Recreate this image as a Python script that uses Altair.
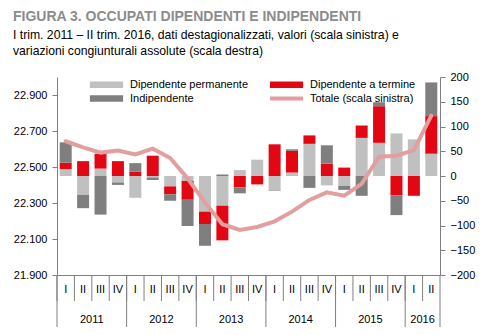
import altair as alt
import pandas as pd

# ---------------- data ----------------
YEARS = [2011, 2012, 2013, 2014, 2015, 2016]
ROMAN = ["I", "II", "III", "IV"]
QUARTERS = [f"{y}-{r}" for y in YEARS for r in ROMAN][:22]

SERIES = ["Dipendente permanente", "Dipendente a termine", "Indipendente"]
LINE_NAME = "Totale (scala sinistra)"

perm = [14, -38, 15, -13, -44, -3, -21, -10, -72, -60, 12, 33, -29, 7, 65, -19, -20, 77, 67, 86, 74, 45]
term = [13, 30, 30, 30, 9, 41, -16, -38, -25, -70, -23, -17, 64, 44, 17, 25, 17, 25, 74, -39, -40, 76]
indip = [41, -27, -78, -5, 17, -5, -13, -53, -44, 3, -12, 0, -1, 3, -24, 37, -8, -40, 8, -40, 0, 68]
total = [22643, 22609, 22580, 22591, 22570, 22602, 22550, 22437, 22302, 22182, 22150, 22167,
         22198, 22252, 22317, 22359, 22341, 22406, 22557, 22563, 22594, 22785]

LEFT_TICKS = [21900, 22100, 22300, 22500, 22700, 22900]
RIGHT_TICKS = [-200, -150, -100, -50, 0, 50, 100, 150, 200]

TITLE = "FIGURA 3. OCCUPATI  DIPENDENTI E INDIPENDENTI"
SUB1 = "I trim. 2011 \u2013 II trim. 2016, dati destagionalizzati, valori  (scala sinistra) e"
SUB2 = "variazioni congiunturali assolute (scala destra)"

# ---------------- styling ----------------
FONT = "Liberation Sans, Arial, sans-serif"
SERIES_COLORS = {"Dipendente permanente": "#C0C0C0",
                 "Dipendente a termine": "#E30613",
                 "Indipendente": "#7F7F7F"}
LEGEND_ORDER = ["Dipendente permanente", "Indipendente", "Dipendente a termine"]
LINE_COLOR = "#E39E9E"
AXIS_GRAY = "#808080"
W, H = 383, 198
LBL = 11

rows = []
for i, q in enumerate(QUARTERS):
    for k, (name, vals) in enumerate(zip(SERIES, [perm, term, indip])):
        rows.append({"q": q, "serie": name, "v": vals[i], "ord": k})
bars_df = pd.DataFrame(rows)
line_df = pd.DataFrame({"q": QUARTERS, "tot": total, "name": LINE_NAME})
year_start_df = pd.DataFrame({"q": [f"{y}-I" for y in YEARS]})
year_end_df = pd.DataFrame({"q": [QUARTERS[-1]]})
year_lab_df = pd.DataFrame({"q": [f"{y}-III" if y < 2016 else "2016-II" for y in YEARS],
                            "year": [str(y) for y in YEARS]})

xscale = alt.Scale(type="band", domain=QUARTERS, paddingInner=0, paddingOuter=0)
xaxis = alt.Axis(title=None, labelExpr="split(datum.value, '-')[1]", labelAngle=0,
                 ticks=False, grid=False, domainColor=AXIS_GRAY, labelPadding=8,
                 labelFont=FONT, labelFontSize=LBL, labelColor="#000000")

bars = alt.Chart(bars_df).mark_bar(size=12).encode(
    x=alt.X("q:O", scale=xscale, axis=xaxis),
    y=alt.Y("v:Q", stack="zero",
            scale=alt.Scale(domain=[-200, 200], nice=False),
            axis=alt.Axis(orient="right", values=RIGHT_TICKS, title=None, grid=False,
                          domainColor=AXIS_GRAY, tickColor=AXIS_GRAY, tickSize=5,
                          labelPadding=5, labelFont=FONT, labelFontSize=LBL,
                          labelColor="#000000")),
    color=alt.Color("serie:N",
                    scale=alt.Scale(domain=LEGEND_ORDER,
                                    range=[SERIES_COLORS[s] for s in LEGEND_ORDER]),
                    legend=alt.Legend(title=None, orient="none", legendX=44, legendY=2,
                                      columns=2, columnPadding=20, rowPadding=2,
                                      symbolType="M-5,-1H5V1H-5Z", symbolSize=44,
                                      symbolStrokeWidth=0, labelOffset=18,
                                      labelFont=FONT, labelFontSize=LBL, padding=0)),
    order=alt.Order("ord:Q"),
)

line = alt.Chart(line_df).mark_line(strokeWidth=4, strokeCap="round").encode(
    x=alt.X("q:O", scale=xscale, axis=xaxis),
    y=alt.Y("tot:Q", scale=alt.Scale(domain=[21900, 23000], nice=False, zero=False),
            axis=alt.Axis(orient="left", values=LEFT_TICKS, title=None, grid=False,
                          labelExpr="replace(format(datum.value, ','), ',', '.')",
                          domainColor=AXIS_GRAY, tickColor=AXIS_GRAY, tickSize=5,
                          labelPadding=5, labelFont=FONT, labelFontSize=LBL,
                          labelColor="#000000")),
    stroke=alt.Stroke("name:N", scale=alt.Scale(domain=[LINE_NAME], range=[LINE_COLOR]),
                      legend=alt.Legend(title=None, orient="none", legendX=224, legendY=16,
                                        symbolType="M-5,0H5", symbolSize=44,
                                        symbolStrokeWidth=4, labelOffset=18,
                                        labelFont=FONT, labelFontSize=LBL, padding=0)),
)

q_sep = alt.Chart(line_df).mark_rule(color=AXIS_GRAY, strokeWidth=1).encode(
    x=alt.X("q:O", bandPosition=0, scale=xscale, axis=xaxis),
    y=alt.value(H), y2=alt.value(H + 26),
)
y_sep = alt.Chart(year_start_df).mark_rule(color=AXIS_GRAY, strokeWidth=1).encode(
    x=alt.X("q:O", bandPosition=0, scale=xscale, axis=xaxis),
    y=alt.value(H), y2=alt.value(H + 52),
)
y_end = alt.Chart(year_end_df).mark_rule(color=AXIS_GRAY, strokeWidth=1).encode(
    x=alt.X("q:O", bandPosition=1, scale=xscale, axis=xaxis),
    y=alt.value(H), y2=alt.value(H + 52),
)
y_lab = alt.Chart(year_lab_df).mark_text(font=FONT, fontSize=LBL, baseline="middle",
                                         align="center", color="#000000").encode(
    x=alt.X("q:O", bandPosition=0, scale=xscale, axis=xaxis),
    y=alt.value(H + 45),
    text="year:N",
)

def title_text(txt, y, size, bold, color):
    return alt.Chart(pd.DataFrame({"t": [txt]})).mark_text(
        font=FONT, fontSize=size, fontWeight="bold" if bold else "normal",
        align="left", baseline="alphabetic", color=color,
    ).encode(x=alt.value(-44), y=alt.value(y), text="t:N")

t1 = title_text(TITLE, -56, 14, True, "#8C8C8C")
t2 = title_text(SUB1, -38, 12.2, False, "#000000")
t3 = title_text(SUB2, -22, 12.2, False, "#000000")

chart = alt.layer(bars, line, q_sep, y_sep, y_end, y_lab, t1, t2, t3).resolve_scale(
    y="independent"
).properties(
    width=W, height=H,
    padding={"left": 57, "top": 77, "right": 44, "bottom": 60},
    autosize=alt.AutoSizeParams(type="none"),
).configure_view(stroke=None)

chart.save("out.html", embed_options={"renderer": "svg", "actions": False})
